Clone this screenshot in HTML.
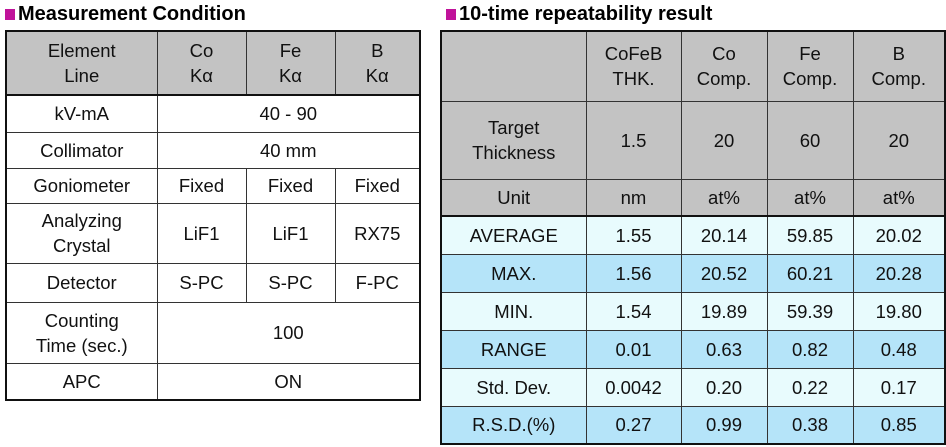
<!DOCTYPE html>
<html><head><meta charset="utf-8"><style>
body{margin:0;width:946px;height:447px;background:#fff;font-family:"Liberation Sans",sans-serif;position:relative;overflow:hidden}
.title{position:absolute;top:3px;font-weight:bold;font-size:20px;color:#000}
.title span{display:inline-block;width:10px;height:11px;background:#c0139a;margin-right:3px}
table{position:absolute;border-collapse:collapse;table-layout:fixed;border:2px solid #111}
td{border:1px solid #333;text-align:center;font-size:18.5px;color:#111;padding:0;line-height:25px}
.g td{background:#c3c3c3}
.l td{background:#e8fbfd}
.b td{background:#b5e4f9}
.hb{border-bottom:2px solid #111}
</style></head><body>
<div class="title" style="left:5px"><span></span>Measurement Condition</div>
<div class="title" style="left:446px"><span></span>10-time repeatability result</div>

<table style="left:5px;top:30px;width:414px">
<colgroup><col style="width:151px"><col style="width:89px"><col style="width:89px"><col style="width:85px"></colgroup>
<tr class="g" style="height:64px"><td class="hb">Element<br>Line</td><td class="hb">Co<br>Kα</td><td class="hb">Fe<br>Kα</td><td class="hb">B<br>Kα</td></tr>
<tr style="height:37px"><td>kV-mA</td><td colspan="3">40 - 90</td></tr>
<tr style="height:36px"><td>Collimator</td><td colspan="3">40 mm</td></tr>
<tr style="height:35px"><td>Goniometer</td><td>Fixed</td><td>Fixed</td><td>Fixed</td></tr>
<tr style="height:60px"><td>Analyzing<br>Crystal</td><td>LiF1</td><td>LiF1</td><td>RX75</td></tr>
<tr style="height:39px"><td>Detector</td><td>S-PC</td><td>S-PC</td><td>F-PC</td></tr>
<tr style="height:61px"><td>Counting<br>Time (sec.)</td><td colspan="3">100</td></tr>
<tr style="height:37px"><td>APC</td><td colspan="3">ON</td></tr>
</table>

<table style="left:440px;top:30px;width:504px">
<colgroup><col style="width:145px"><col style="width:95px"><col style="width:86px"><col style="width:86px"><col style="width:92px"></colgroup>
<tr class="g" style="height:70px"><td></td><td>CoFeB<br>THK.</td><td>Co<br>Comp.</td><td>Fe<br>Comp.</td><td>B<br>Comp.</td></tr>
<tr class="g" style="height:78px"><td>Target<br>Thickness</td><td>1.5</td><td>20</td><td>60</td><td>20</td></tr>
<tr class="g" style="height:37px"><td class="hb">Unit</td><td class="hb">nm</td><td class="hb">at%</td><td class="hb">at%</td><td class="hb">at%</td></tr>
<tr class="l" style="height:38px"><td>AVERAGE</td><td>1.55</td><td>20.14</td><td>59.85</td><td>20.02</td></tr>
<tr class="b" style="height:38px"><td>MAX.</td><td>1.56</td><td>20.52</td><td>60.21</td><td>20.28</td></tr>
<tr class="l" style="height:38px"><td>MIN.</td><td>1.54</td><td>19.89</td><td>59.39</td><td>19.80</td></tr>
<tr class="b" style="height:38px"><td>RANGE</td><td>0.01</td><td>0.63</td><td>0.82</td><td>0.48</td></tr>
<tr class="l" style="height:38px"><td>Std. Dev.</td><td>0.0042</td><td>0.20</td><td>0.22</td><td>0.17</td></tr>
<tr class="b" style="height:38px"><td>R.S.D.(%)</td><td>0.27</td><td>0.99</td><td>0.38</td><td>0.85</td></tr>
</table>
</body></html>
